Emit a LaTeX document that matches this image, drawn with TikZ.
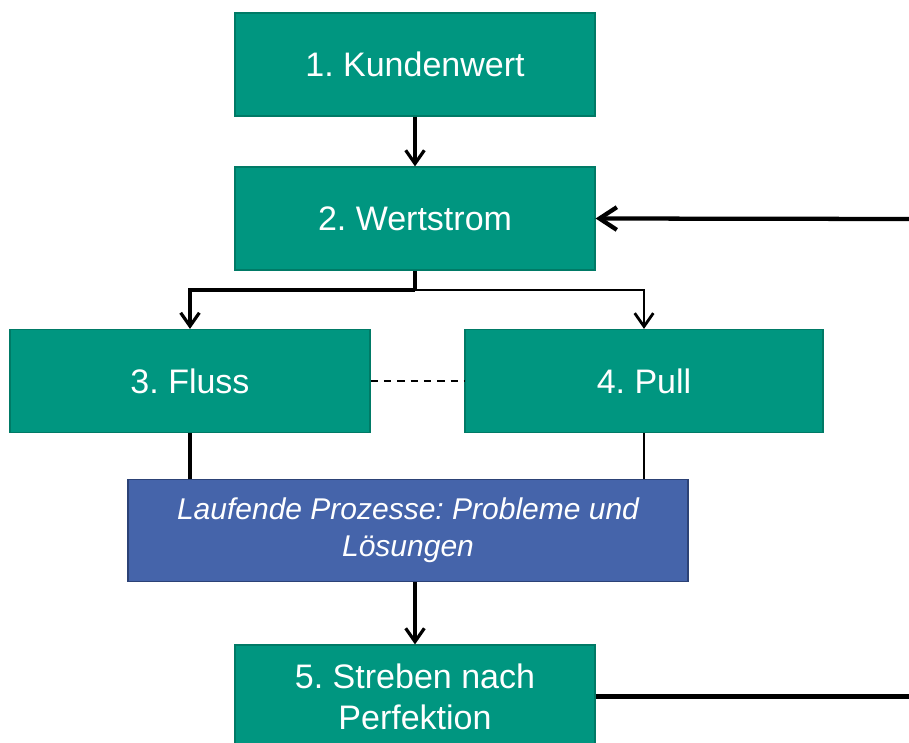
\documentclass[tikz,border=0pt]{standalone}
\usepackage{fontspec}
\setmainfont{Liberation Sans}
\usetikzlibrary{arrows.meta}
\definecolor{tealfill}{RGB}{0,150,128}
\definecolor{tealline}{RGB}{0,122,102}
\definecolor{bluefill}{RGB}{69,100,170}
\definecolor{blueline}{RGB}{44,66,118}
\frenchspacing
\begin{document}
\frenchspacing
\begin{tikzpicture}[x=0.75pt,y=-0.75pt,
  gbox/.style={draw=tealline, fill=tealfill, line width=0.9pt, text=white,
    minimum width=270pt, minimum height=77.25pt, inner sep=0pt, align=center,
    font=\fontsize{25.5}{30.75}\selectfont\frenchspacing},
  bbox/.style={draw=blueline, fill=bluefill, line width=0.9pt, text=white,
    minimum width=420pt, minimum height=76.5pt, inner sep=0pt, align=center,
    font=\fontsize{22.5}{27.5}\selectfont\itshape\frenchspacing},
  arr/.style={-{Straight Barb[length=10pt,width=14pt]}, line width=2.4pt},
  arrthin/.style={-{Straight Barb[length=10pt,width=14pt]}, line width=2.1pt},
  arrbig/.style={-{Straight Barb[length=13pt,width=17pt]}, line width=3.2pt},
  conn/.style={line width=2.6pt},
  connthin/.style={line width=1.1pt},
  connbig/.style={line width=3.2pt}]
\clip (0,0) rectangle (909,742);
\fill[white] (0,0) rectangle (909,742);
\node[gbox] (k1) at (415,64.5) {1. Kundenwert};
\node[gbox] (k2) at (415,218.5) {2. Wertstrom};
\node[gbox] (k3) at (190,381) {3. Fluss};
\node[gbox, minimum width=268.5pt] (k4) at (644,381) {4. Pull};
\node[bbox] (lp) at (408,530.5) {Laufende Prozesse: Probleme und\\Lösungen};
\node[gbox] (k5) at (415,696.5) {5. Streben nach\\Perfektion};
\coordinate (split) at (415,290);
\coordinate (r1) at (915,696.5);
\coordinate (r2) at (915,219);
\draw[arr] (k1.south) -- (k2.north);
\draw[conn] (k2.south) -- (split);
\draw[arr] (split) -| (k3.north);
\draw[arrthin] (split) -| (k4.north);
\draw[line width=1.4pt, dash pattern=on 5.5pt off 4.5pt] (k3.east) -- (k4.west);
\draw[conn] (k3.south) -- (k3.south |- lp.north);
\draw[connthin] (k4.south) -- (k4.south |- lp.north);
\draw[arr] (k5.north |- lp.south) -- (k5.north);
\draw[connbig] (k5.east) -- (r1);
\draw[arrbig] (r2) -- (k2.east);
\end{tikzpicture}
\end{document}
